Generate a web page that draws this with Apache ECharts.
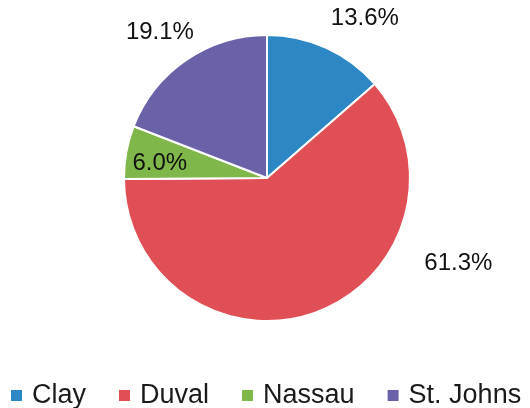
<!DOCTYPE html>
<html><head><meta charset="utf-8">
<script src="https://cdn.jsdelivr.net/npm/echarts@6/dist/echarts.min.js"></script>
<style>html,body{margin:0;padding:0;background:#fff}#c{width:530px;height:408px}</style>
</head><body><div id="c"></div>
<script>
const categories = ['Clay', 'Duval', 'Nassau', 'St. Johns'];
const values = [13.6, 61.3, 6.0, 19.1];
const colors = ['#2c87c4', '#e04f55', '#80b74a', '#6a62a9'];
// label offsets from the default inside position (style only)
const labelShift = [[67, -92], [165, 16], [-34, -1], [-65, -84]];

const chart = echarts.init(document.getElementById('c'));
chart.setOption({
  animation: false,
  color: colors,
  legend: {
    data: categories,
    left: 11,
    top: 382,
    padding: 0,
    width: 519,
    itemWidth: 11,
    itemHeight: 11,
    itemGap: 33,
    icon: 'rect',
    itemStyle: { borderWidth: 0 },
    textStyle: { fontFamily: 'Liberation Sans', fontSize: 27, color: '#1a1a1a', padding: [0, 0, 0, 5] }
  },
  series: [{
    type: 'pie',
    center: [267, 178],
    radius: [0, 143],
    startAngle: 90,
    clockwise: true,
    itemStyle: { borderColor: '#fff', borderWidth: 2 },
    label: {
      show: true,
      position: 'inside',
      formatter: p => p.value.toFixed(1) + '%',
      fontFamily: 'Liberation Sans',
      fontSize: 24,
      color: '#111'
    },
    labelLine: { show: false },
    labelLayout: p => ({ dx: labelShift[p.dataIndex][0], dy: labelShift[p.dataIndex][1] }),
    emphasis: { disabled: true },
    data: categories.map((c, i) => ({ name: c, value: values[i] }))
  }]
});
</script></body></html>
